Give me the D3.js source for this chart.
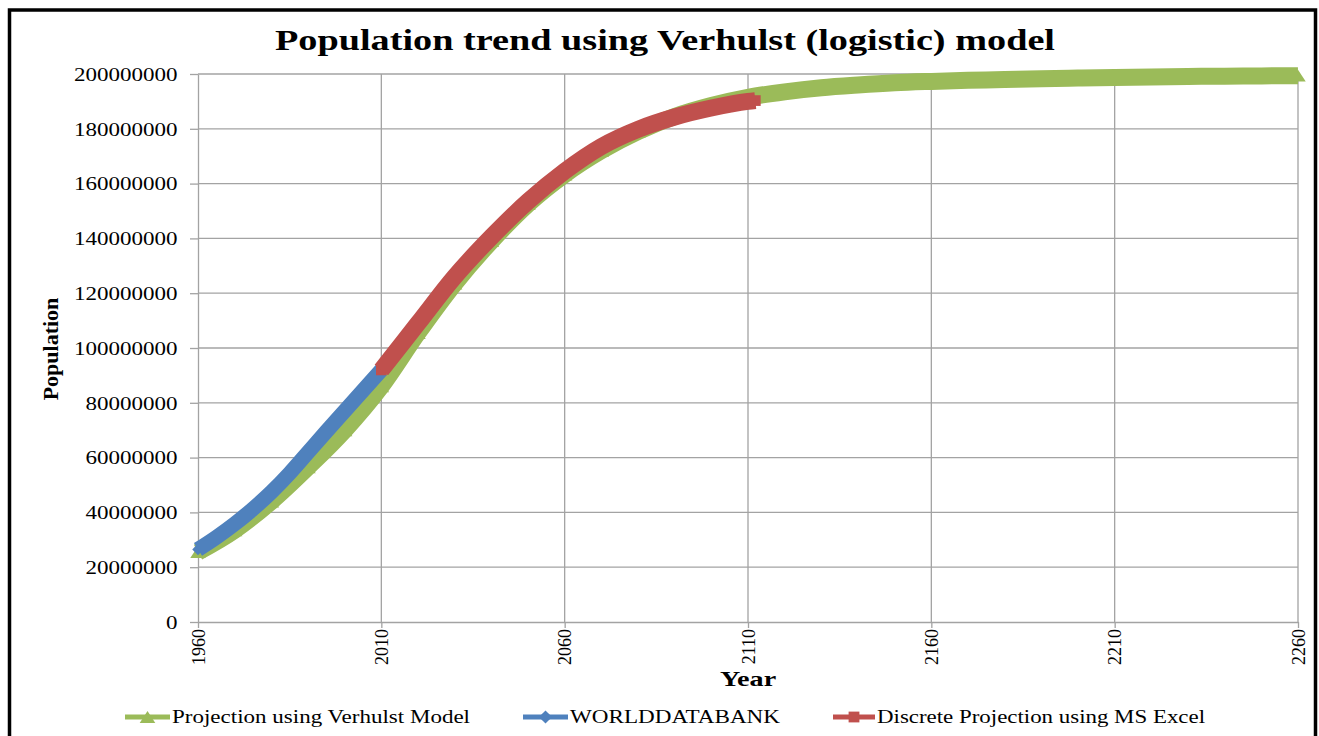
<!DOCTYPE html>
<html>
<head>
<meta charset="utf-8">
<script src="https://cdn.jsdelivr.net/npm/d3@7"></script>
<style>
  body { margin: 0; background: #fff; }
  text { font-family: "Liberation Serif", "Times New Roman", serif; fill: #000; }
</style>
</head>
<body>
<svg id="chart" width="1319" height="736"></svg>
<script>
// projection using Verhulst model (people)
const verhulstYears = [1960, 1970, 1980, 1990, 2000, 2010, 2020, 2030, 2040, 2050, 2060,
  2070, 2080, 2090, 2100, 2110, 2120, 2130, 2140, 2150, 2160,
  2170, 2180, 2190, 2200, 2210, 2220, 2230, 2240, 2250, 2260];
const verhulstPop = [25.5e6, 33.5e6, 44e6, 56.5e6, 70e6, 86e6, 105.5e6, 123.5e6, 139e6, 152.5e6, 163.3e6,
  172e6, 179e6, 184.5e6, 188.5e6, 191.5e6, 193.5e6, 195e6, 196e6, 196.8e6, 197.3e6,
  197.7e6, 198e6, 198.3e6, 198.5e6, 198.7e6, 198.9e6, 199.1e6, 199.2e6, 199.3e6, 199.4e6];

// WORLDDATABANK observed
const bankYears = [1960, 1965, 1970, 1975, 1980, 1985, 1990, 1995, 2000, 2005, 2010];
const bankPop = [26.5e6, 30.9e6, 35.8e6, 41.3e6, 47.4e6, 54.3e6, 61.9e6, 69.5e6, 77e6, 84.5e6, 92e6];

// discrete projection using MS Excel
const excelYears = [2010, 2020, 2030, 2040, 2050, 2060, 2070, 2080, 2090, 2100, 2110, 2112];
const excelPop = [92e6, 109e6, 126e6, 140.5e6, 153.5e6, 164.5e6, 173.5e6, 179.8e6, 184.3e6, 187.6e6, 190e6, 190.3e6];

const yTicks = [0, 20000000, 40000000, 60000000, 80000000, 100000000, 120000000, 140000000, 160000000, 180000000, 200000000];
const xTicks = [1960, 2010, 2060, 2110, 2160, 2210, 2260];
const seriesNames = ["Projection using Verhulst Model", "WORLDDATABANK", "Discrete Projection using MS Excel"];

const green = "#9BBB59", blue = "#4F81BD", red = "#C0504D", grid = "#a3a3a3";
const sx = 1.28; // the picture is stretched sideways

const svg = d3.select("#chart");

// outer frame
svg.append("rect")
  .attr("x", 9.5).attr("y", 10)
  .attr("width", 1306).attr("height", 740)
  .attr("fill", "none").attr("stroke", "#000").attr("stroke-width", 3.5);

const x = d3.scaleLinear().domain([1960, 2260]).range([198, 1298]);
const y = d3.scaleLinear().domain([0, 200000000]).range([622, 74]);

// gridlines
svg.append("g").selectAll("line").data(yTicks.slice(1)).enter().append("line")
  .attr("x1", x(1960)).attr("x2", x(2260))
  .attr("y1", d => y(d)).attr("y2", d => y(d))
  .attr("stroke", grid).attr("stroke-width", 1.3);
svg.append("g").selectAll("line").data(xTicks.slice(1)).enter().append("line")
  .attr("x1", d => x(d)).attr("x2", d => x(d))
  .attr("y1", y(0)).attr("y2", y(200000000))
  .attr("stroke", grid).attr("stroke-width", 1.3);

// y axis
const yAxis = svg.append("g")
  .attr("transform", `translate(${x(1960)},0)`)
  .call(d3.axisLeft(y).tickValues(yTicks).tickFormat(d3.format("d")).tickSizeInner(8).tickSizeOuter(0));
yAxis.select(".domain").attr("stroke", grid).attr("stroke-width", 1.3);
yAxis.selectAll(".tick line").attr("stroke", grid).attr("stroke-width", 1.3);
yAxis.selectAll(".tick text")
  .attr("x", -16).attr("dy", "0.35em")
  .attr("transform", `scale(${sx},1)`)
  .style("font-size", "18px").style("font-family", "Liberation Serif");

// x axis
const xAxis = svg.append("g")
  .attr("transform", `translate(0,${y(0)})`)
  .call(d3.axisBottom(x).tickValues(xTicks).tickFormat(d3.format("d")).tickSizeInner(6).tickSizeOuter(0));
xAxis.select(".domain").attr("stroke", grid).attr("stroke-width", 1.3);
xAxis.selectAll(".tick line").attr("stroke", grid).attr("stroke-width", 1.3);
xAxis.selectAll(".tick text")
  .attr("x", -7).attr("y", 0).attr("dy", "0.35em")
  .attr("text-anchor", "end")
  .attr("transform", "rotate(-90)")
  .style("font-size", "18px").style("font-family", "Liberation Serif");

// series
const line = d3.line().x(d => x(d[0])).y(d => y(d[1])).curve(d3.curveMonotoneX);

const series = [
  { years: verhulstYears, pop: verhulstPop, color: green, width: 17, marker: "tri" },
  { years: bankYears, pop: bankPop, color: blue, width: 15, marker: "dia" },
  { years: excelYears, pop: excelPop, color: red, width: 17, marker: "sq" }
];

function markerPath(type, s) {
  if (type == "tri") return `M0,${-s * 0.5}L${s * 0.65},${s * 0.5}L${-s * 0.65},${s * 0.5}Z`;
  if (type == "dia") return `M0,${-s * 0.55}L${s * 0.55},0L0,${s * 0.55}L${-s * 0.55},0Z`;
  return `M${-s * 0.45},${-s * 0.45}H${s * 0.45}V${s * 0.45}H${-s * 0.45}Z`;
}

series.forEach(s => {
  const pts = s.years.map((yr, i) => [yr, s.pop[i]]);
  // markers sit inside the thick line, so they only show at the ends
  svg.append("g").selectAll("path").data(pts).enter().append("path")
    .attr("transform", d => `translate(${x(d[0])},${y(d[1])})`)
    .attr("d", markerPath(s.marker, s.width * 0.7))
    .attr("fill", s.color);
  svg.append("path")
    .datum(pts)
    .attr("d", line)
    .attr("fill", "none")
    .attr("stroke", s.color)
    .attr("stroke-width", s.width)
    .attr("stroke-linejoin", "round");
});

// title and axis titles
svg.append("text")
  .attr("x", 275).attr("y", 50)
  .attr("textLength", 780).attr("lengthAdjust", "spacingAndGlyphs")
  .style("font-size", "29px").style("font-weight", "bold")
  .text("Population trend using Verhulst (logistic) model");

svg.append("text")
  .attr("transform", `translate(748,686) scale(${sx},1)`)
  .attr("text-anchor", "middle")
  .style("font-size", "22px").style("font-weight", "bold")
  .text("Year");

svg.append("text")
  .attr("transform", "translate(58,349) rotate(-90)")
  .attr("text-anchor", "middle")
  .style("font-size", "22px").style("font-weight", "bold")
  .text("Population");

// legend
const legendPos = [
  { x0: 125, x1: 170, tx: 172, tw: 298 },
  { x0: 523, x1: 568, tx: 570, tw: 210 },
  { x0: 833, x1: 875, tx: 877, tw: 328 }
];
const legendY = 717;
series.forEach((s, i) => {
  const p = legendPos[i];
  const g = svg.append("g");
  g.append("line")
    .attr("x1", p.x0).attr("x2", p.x1)
    .attr("y1", legendY).attr("y2", legendY)
    .attr("stroke", s.color).attr("stroke-width", 5);
  g.append("path")
    .attr("transform", `translate(${(p.x0 + p.x1) / 2},${legendY})`)
    .attr("d", markerPath(s.marker, 12))
    .attr("fill", s.color);
  g.append("text")
    .attr("x", p.tx).attr("y", legendY + 6)
    .attr("textLength", p.tw).attr("lengthAdjust", "spacingAndGlyphs")
    .style("font-size", "19px")
    .text(seriesNames[i]);
});
</script>
</body>
</html>
